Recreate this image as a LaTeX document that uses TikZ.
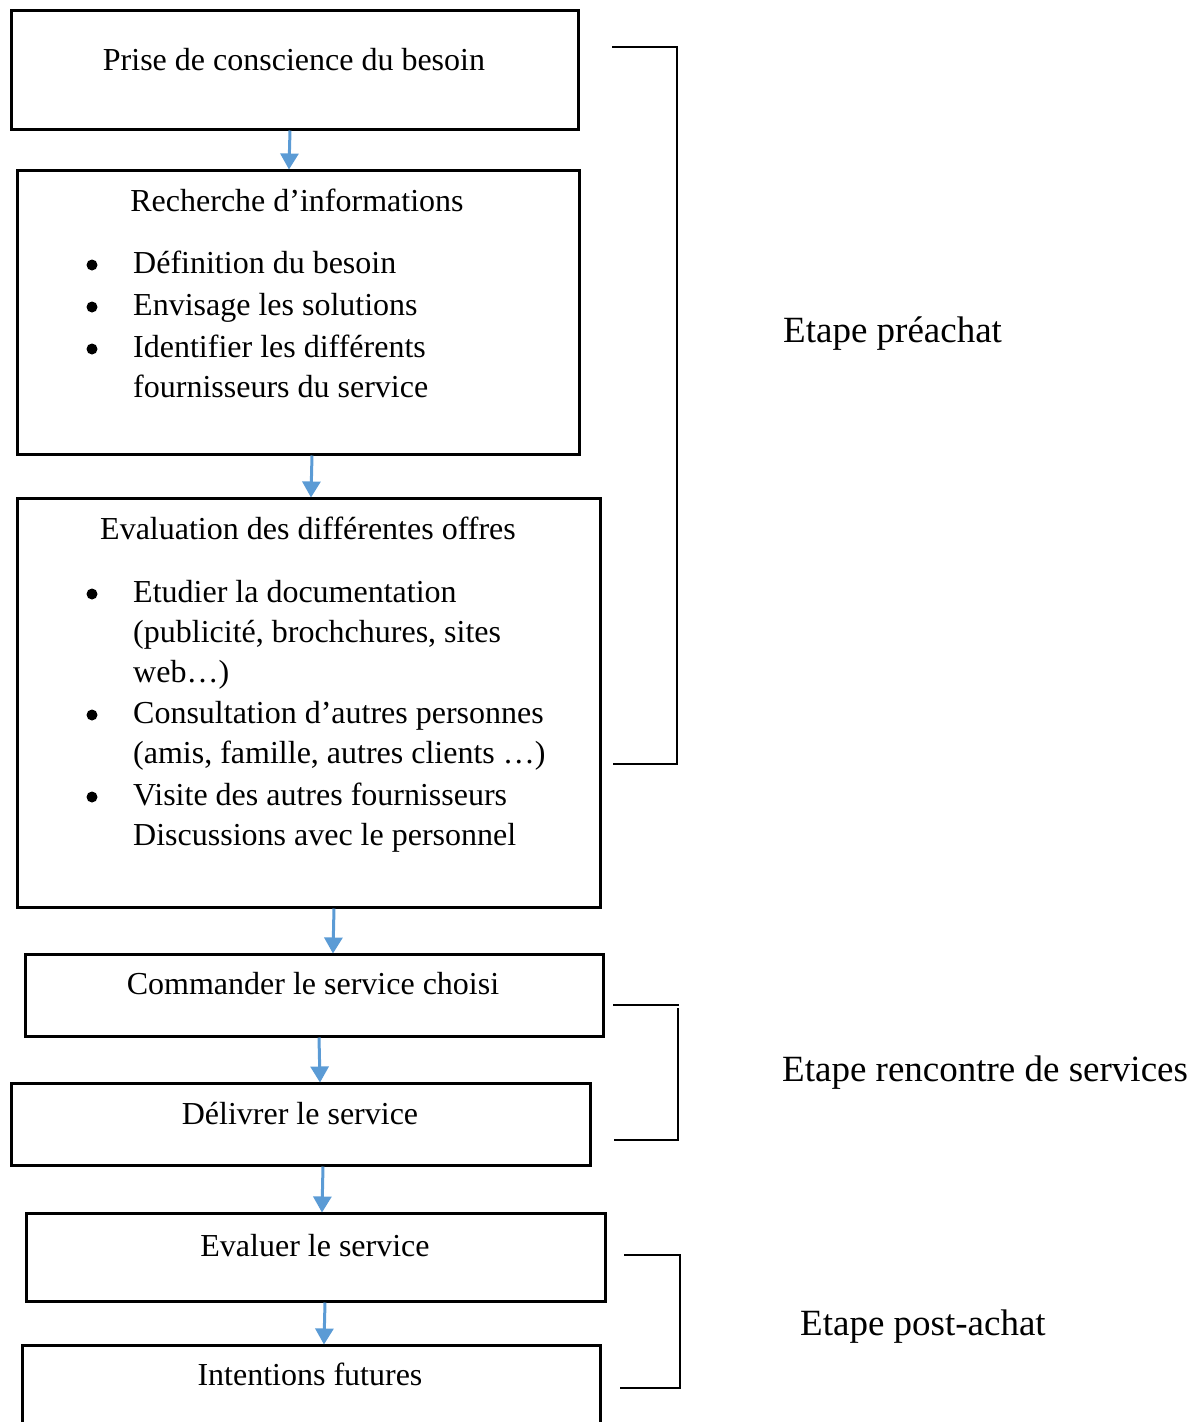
\documentclass[tikz,border=0pt]{standalone}
\usepackage{fontspec}
\setmainfont{Liberation Serif}
\usetikzlibrary{arrows.meta}
\definecolor{arrowblue}{RGB}{91,155,213}
\begin{document}
\begin{tikzpicture}[x=1pt,y=-1pt,
		box/.style={draw=black, line width=3pt, inner sep=0pt},
		txt/.style={anchor=base, inner sep=0pt, font=\fontsize{32}{40}\selectfont},
		item/.style={anchor=base west, inner sep=0pt, font=\fontsize{32}{40}\selectfont},
		dot/.style={circle, fill=black, inner sep=0pt, minimum size=11pt},
		flow/.style={draw=arrowblue, line width=3pt, -{Triangle[width=18pt,length=16pt]}, shorten >=-1pt},
		brace/.style={line width=2pt},
		phase/.style={anchor=base west, inner sep=0pt, font=\fontsize{37}{44}\selectfont}]
		\useasboundingbox (0,0) rectangle (1203,1422);
		% boxes
		\node[box, minimum width=567, minimum height=119] (b1) at (294.5,69.5) {};
		\node[box, minimum width=562, minimum height=284] (b2) at (298,312) {};
		\node[box, minimum width=583, minimum height=409] (b3) at (308.5,702.5) {};
		\node[box, minimum width=578, minimum height=82] (b4) at (314,995) {};
		\node[box, minimum width=579, minimum height=82] (b5) at (300.5,1124) {};
		\node[box, minimum width=579, minimum height=88] (b6) at (315.5,1257) {};
		\node[box, minimum width=578, minimum height=100] (b7) at (311,1395) {};
		% titles
		\node[txt] (t1) at (294,70) {Prise de conscience du besoin};
		\node[txt] (t2) at (297,211) {Recherche d’informations};
		\node[txt] (t3) at (308,539) {Evaluation des différentes offres};
		\node[txt] (t4) at (313,994) {Commander le service choisi};
		\node[txt] (t5) at (300,1124) {Délivrer le service};
		\node[txt] (t6) at (315,1256) {Evaluer le service};
		\node[txt] (t7) at (310,1385) {Intentions futures};
		% lists
		\foreach \y in {265,307,349,594,715,797} \node[dot] (dot\y) at (92,\y) {};
		\node[item] (i1) at (133,273) {Définition du besoin};
		\node[item] (i2) at (133,315) {Envisage les solutions};
		\node[item] (i3) at (133,357) {Identifier les différents};
		\node[item] (i4) at (133,397) {fournisseurs du service};
		\node[item] (j1) at (133,602) {Etudier la documentation};
		\node[item] (j2) at (133,642) {(publicité, brochchures, sites};
		\node[item] (j3) at (133,682) {web…)};
		\node[item] (j4) at (133,723) {Consultation d’autres personnes};
		\node[item] (j5) at (133,763) {(amis, famille, autres clients …)};
		\node[item] (j6) at (133,805) {Visite des autres fournisseurs};
		\node[item] (j7) at (133,845) {Discussions avec le personnel};
		% arrows
		\draw[flow] ([xshift=-4.5]b1.south) -- ([xshift=-9]b2.north);
		\draw[flow] ([xshift=14]b2.south) -- ([xshift=2.5]b3.north);
		\draw[flow] ([xshift=25.5]b3.south) -- ([xshift=19]b4.north);
		\draw[flow] ([xshift=5]b4.south) -- ([xshift=19.5]b5.north);
		\draw[flow] ([xshift=22.5]b5.south) -- ([xshift=6.5]b6.north);
		\draw[flow] ([xshift=9.5]b6.south) -- ([xshift=13]b7.north);
		% brackets
		\draw[brace] (612,47) -- (677,47) -- (677,764) -- (613,764);
		\draw[brace] (613,1005) -- (679,1005);
		\draw[brace] (678,1008) -- (678,1139);
		\draw[brace] (614,1140) -- (679,1140);
		\draw[brace] (624,1255) -- (680,1255) -- (680,1388) -- (620,1388);
		\node[phase] (p1) at (783,342) {Etape préachat};
		\node[phase] (p2) at (782,1081) {Etape rencontre de services};
		\node[phase] (p3) at (800,1335) {Etape post-achat};
	\end{tikzpicture}
\end{document}
